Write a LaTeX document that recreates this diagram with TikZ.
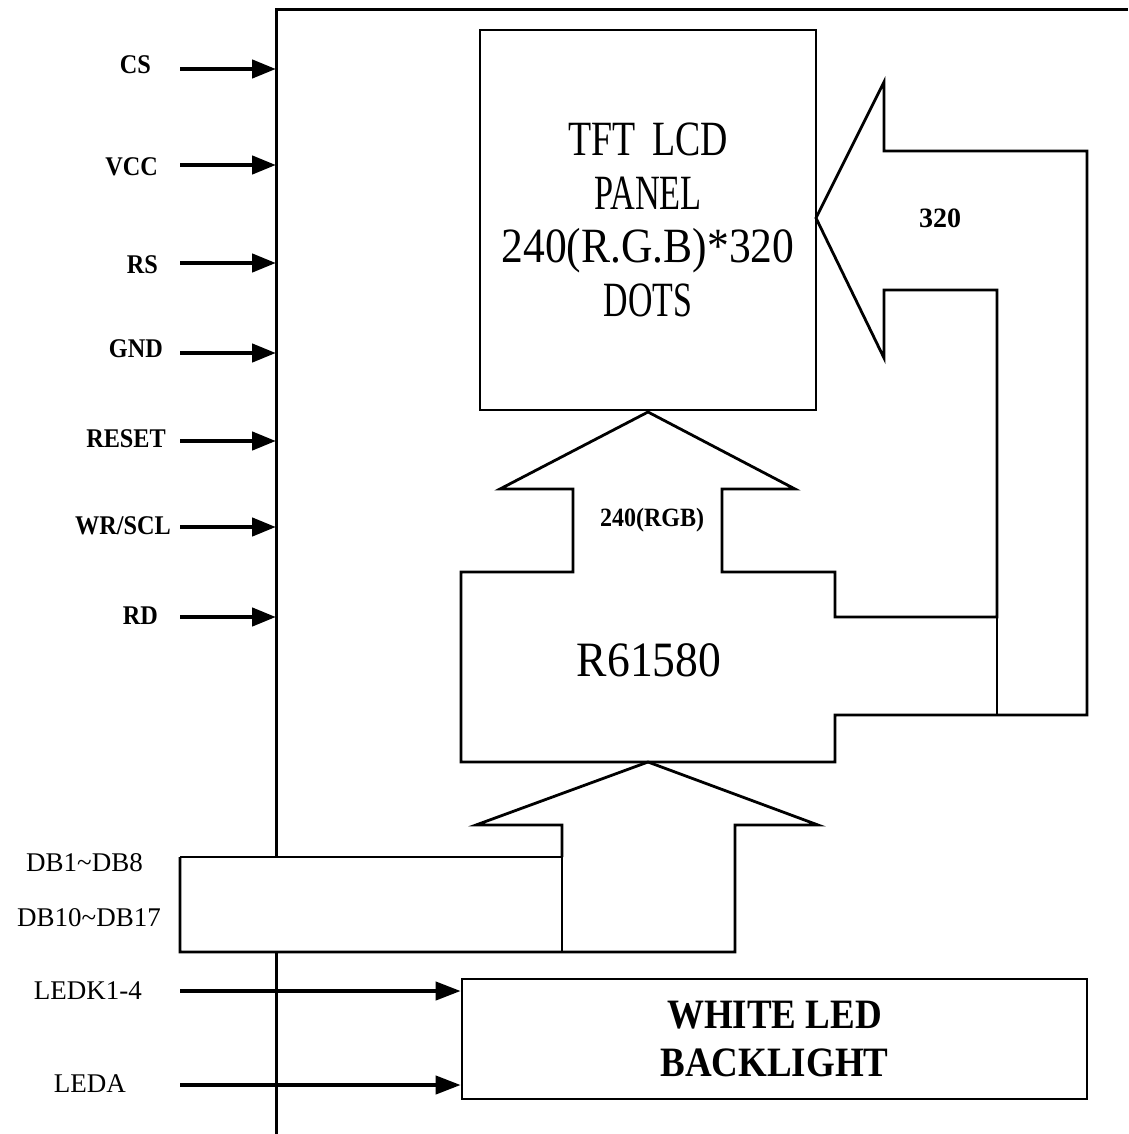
\documentclass[tikz,border=0pt]{standalone}
\usepackage{fontspec}
\setmainfont{Liberation Serif}
\usetikzlibrary{arrows.meta}
\begin{document}
\begin{tikzpicture}[x=1pt,y=-1pt,
  frameline/.style={line width=3pt},
  outline/.style={line width=2.8pt,line join=miter,miter limit=20},
  thinline/.style={line width=1.4pt},
  busedge/.style={line width=2pt},
  pinarrow/.style={line width=4.5pt,-{Triangle[length=24pt,width=18pt]}},
  ledarrow/.style={line width=4pt,-{Triangle[length=25pt,width=18pt]}},
  pinlabel/.style={anchor=east,inner sep=0pt,font=\fontsize{25}{28}\selectfont\bfseries},
  buslabel/.style={anchor=east,inner sep=0pt,font=\fontsize{27}{30}\selectfont},
  box/.style={draw,line width=2.6pt,inner sep=0pt,align=center}
]
\useasboundingbox (0,0) rectangle (1128,1134);
\fill[white] (0,0) rectangle (1128,1134);

% module frame
\draw[frameline] (276,857) -- (276,10) -- (1128,10);
\draw[frameline] (276,952) -- (276,1134);

% interface pins
\node[pinlabel] (cs)    at (151,65)  {\scalebox{0.97}[1.08]{CS}};
\node[pinlabel] (vcc)   at (158,167) {\scalebox{0.97}[1.08]{VCC}};
\node[pinlabel] (rs)    at (158,265) {\scalebox{0.97}[1.08]{RS}};
\node[pinlabel] (gnd)   at (163,349) {\scalebox{0.97}[1.08]{GND}};
\node[pinlabel] (reset) at (166,439) {\scalebox{0.97}[1.08]{RESET}};
\node[pinlabel] (wr)    at (171,526) {\scalebox{0.97}[1.08]{WR/SCL}};
\node[pinlabel] (rd)    at (158,616) {\scalebox{0.97}[1.08]{RD}};
\coordinate (csA) at (180,69);   \coordinate (csB) at (276,69);
\coordinate (vccA) at (180,165); \coordinate (vccB) at (276,165);
\coordinate (rsA) at (180,263);  \coordinate (rsB) at (276,263);
\coordinate (gndA) at (180,353); \coordinate (gndB) at (276,353);
\coordinate (resetA) at (180,441); \coordinate (resetB) at (276,441);
\coordinate (wrA) at (180,527);  \coordinate (wrB) at (276,527);
\coordinate (rdA) at (180,617);  \coordinate (rdB) at (276,617);
\draw[pinarrow] (csA) -- (csB);
\draw[pinarrow] (vccA) -- (vccB);
\draw[pinarrow] (rsA) -- (rsB);
\draw[pinarrow] (gndA) -- (gndB);
\draw[pinarrow] (resetA) -- (resetB);
\draw[pinarrow] (wrA) -- (wrB);
\draw[pinarrow] (rdA) -- (rdB);

% TFT panel
\node[box,minimum width=336pt,minimum height=380pt,
      font=\fontsize{44}{53.5}\selectfont] (panel) at (648,220)
  {\scalebox{0.86}[1.12]{TFT\hspace{0.45em}LCD}\\
   \scalebox{0.78}[1.12]{PANEL}\\
   \scalebox{0.99}[1.12]{240(R.G.B)*320}\\
   \scalebox{0.77}[1.12]{DOTS}};

% driver IC with data paths (drawn as one outline)
\draw[outline] (461,572) -- (573,572) -- (573,489) -- (500,489) -- (648,412)
  -- (795,489) -- (722,489) -- (722,572) -- (835,572) -- (835,617)
  -- (997,617) -- (997,290) -- (884,290) -- (884,358) -- (816,218)
  -- (884,82) -- (884,151) -- (1087,151) -- (1087,715) -- (835,715)
  -- (835,762) -- (461,762) -- cycle;
\draw[thinline] (997,617) -- (997,715);
\node[inner sep=0pt,font=\fontsize{48}{50}\selectfont] (ic) at (649,660)
  {\scalebox{0.95}[1.03]{R61580}};
\node[inner sep=0pt,font=\fontsize{24}{26}\selectfont\bfseries] (rgb) at (652,520)
  {\scalebox{1}[1.1]{240(RGB)}};
\node[inner sep=0pt,font=\fontsize{28}{30}\selectfont\bfseries] (rows) at (940,218) {320};

% data bus and arrow into the IC
\draw[outline] (562,857) -- (562,825) -- (476,825) -- (648,762) -- (818,825)
  -- (735,825) -- (735,952) -- (180,952) -- (180,857);
\draw[busedge] (180,857) -- (562,857);
\draw[thinline] (562,857) -- (562,952);
\node[buslabel] (db1) at (143,863) {DB1\textasciitilde DB8};
\node[buslabel] (db10) at (161,918) {DB10\textasciitilde DB17};

% backlight
\node[box,minimum width=625pt,minimum height=120pt,
      font=\fontsize{37}{48}\selectfont\bfseries] (bl) at (774.5,1039)
  {\scalebox{1}[1.13]{WHITE LED}\\ \scalebox{1}[1.13]{BACKLIGHT}};
\node[buslabel] (ledk) at (142,991) {LEDK1-4};
\node[buslabel] (leda) at (126,1084) {LEDA};
\coordinate (ledkA) at (180,991);
\coordinate (ledaA) at (180,1085);
\draw[ledarrow] (ledkA) -- (ledkA -| bl.west);
\draw[ledarrow] (ledaA) -- (ledaA -| bl.west);
\end{tikzpicture}
\end{document}
